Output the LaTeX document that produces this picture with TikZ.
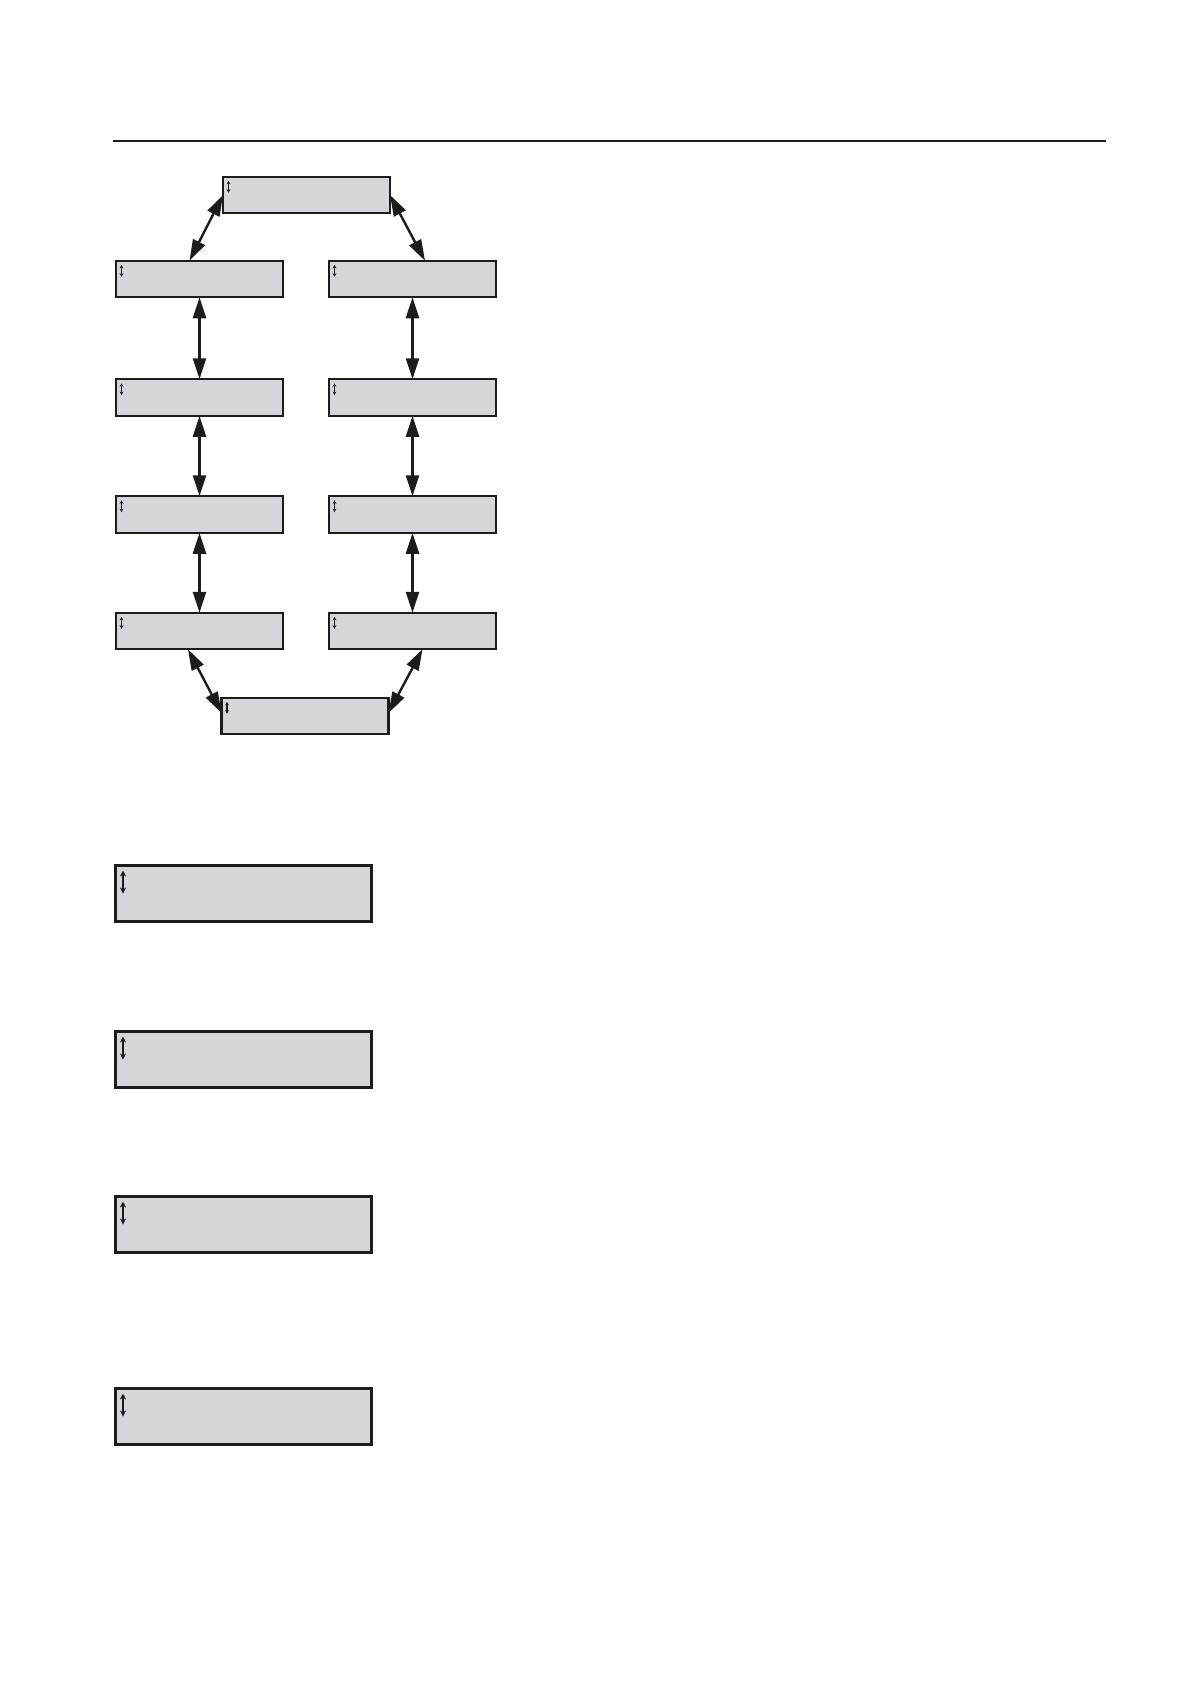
\documentclass[tikz,border=0pt]{standalone}
\usetikzlibrary{arrows.meta}
\definecolor{boxgray}{RGB}{216,213,218}
\definecolor{ink}{RGB}{28,28,28}
\begin{document}
\begin{tikzpicture}[x=1pt,y=-1pt,
  sbox/.style={draw=ink, line width=2.3pt, fill=boxgray, minimum width=167pt, minimum height=36.5pt, inner sep=0pt, outer sep=0pt},
  lbox/.style={draw=ink, line width=2.9pt, fill=boxgray, minimum width=256pt, minimum height=56pt, inner sep=0pt, outer sep=0pt},
  conn/.style={draw=ink, line width=2.4pt, {Triangle[length=21pt,width=13pt]}-{Triangle[length=21pt,width=13pt]}},
  sicon/.style={draw=ink, line width=1.2pt, {Stealth[length=3.5pt,width=3.5pt]}-{Stealth[length=3.5pt,width=3.5pt]}},
  licon/.style={draw=ink, line width=1.7pt, {Stealth[length=6pt,width=6pt]}-{Stealth[length=6pt,width=6pt]}}
]
\useasboundingbox (0,0) rectangle (1190,1684);
\draw[ink, line width=1.3pt] (113,141) -- (1106,141);

% small boxes
\node[sbox] (top) at (306.5,195) {};
\node[sbox] (bot) at (305,716) {};
\node[sbox] (l1) at (199.5,279) {};
\node[sbox] (l2) at (199.5,397.5) {};
\node[sbox] (l3) at (199.5,514.5) {};
\node[sbox] (l4) at (199.5,631) {};
\node[sbox] (r1) at (412.5,279) {};
\node[sbox] (r2) at (412.5,397.5) {};
\node[sbox] (r3) at (412.5,514.5) {};
\node[sbox] (r4) at (412.5,631) {};

\foreach \n in {top,bot,l1,l2,l3,l4,r1,r2,r3,r4}{
  \draw[sicon] ([shift={(5.5pt,-4pt)}]\n.north west) -- ([shift={(5.5pt,-16pt)}]\n.north west);
}

% large boxes
\node[lbox] (b1) at (243.5,893.5) {};
\node[lbox] (b2) at (243.5,1059.5) {};
\node[lbox] (b3) at (243.5,1224.5) {};
\node[lbox] (b4) at (243.5,1416.5) {};
\foreach \n in {b1,b2,b3,b4}{
  \draw[licon] ([shift={(7.5pt,-5pt)}]\n.north west) -- ([shift={(7.5pt,-28pt)}]\n.north west);
}

% connectors
\draw[conn] (top.west) -- ([xshift=-10pt]l1.north);
\draw[conn] (top.east) -- ([xshift=12.5pt]r1.north);
\draw[conn] (l1) -- (l2);
\draw[conn] (l2) -- (l3);
\draw[conn] (l3) -- (l4);
\draw[conn] (r1) -- (r2);
\draw[conn] (r2) -- (r3);
\draw[conn] (r3) -- (r4);
\draw[conn] ([xshift=-11.5pt]l4.south) -- ([yshift=3pt]bot.west);
\draw[conn] ([xshift=10pt]r4.south) -- ([yshift=3pt]bot.east);
\end{tikzpicture}
\end{document}
